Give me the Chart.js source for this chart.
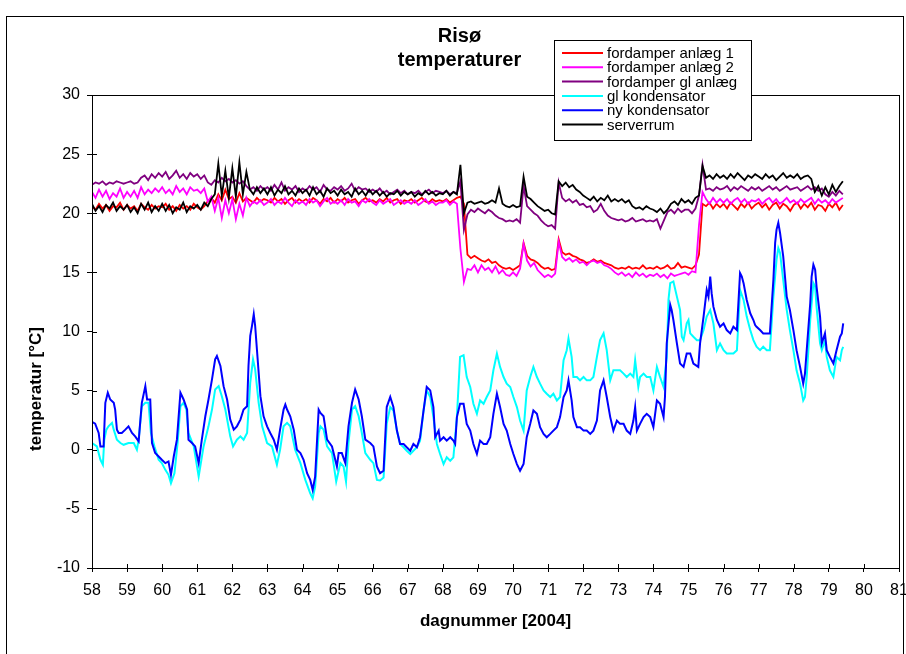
<!DOCTYPE html>
<html>
<head>
<meta charset="utf-8">
<title>Risø temperaturer</title>
<script src="https://cdn.jsdelivr.net/npm/chart.js@4.4.1/dist/chart.umd.min.js"></script>
<style>
  html, body { margin: 0; padding: 0; background: #fff; }
  #wrap { width: 906px; height: 654px; }
</style>
</head>
<body>
<div id="wrap"><canvas id="chart" width="906" height="654"></canvas></div>
<script>
// fordamper + serverrum are logged on a 0.1 day grid starting at day 58
const firstDay = 58;
const sampleStep = 0.1;

const fordamperAnlaeg1 = [
  20.6, 20.3, 20.8, 20.4, 20.7, 20.2, 20.6, 20.5, 20.9, 20.3,
  20.7, 20.4, 20.6, 20.2, 20.8, 20.5, 20.3, 20.7, 20.4, 20.6,
  20.5, 20.8, 20.3, 20.6, 20.2, 20.7, 20.4, 20.6, 20.3, 20.8,
  20.5, 20.3, 20.6, 21.0, 21.3, 20.9, 21.6, 21.1, 22.0, 21.2,
  21.4, 20.9, 21.7, 21.0, 21.3, 21.1, 20.9, 21.3, 21.0, 21.2,
  21.1, 20.9, 21.3, 21.0, 21.2, 20.8, 21.1, 21.3, 20.9, 21.2,
  21.0, 21.2, 20.9, 21.3, 21.1, 20.8, 21.2, 21.0, 21.3, 20.9,
  21.2, 21.0, 21.3, 20.9, 21.1, 21.2, 20.8, 21.1, 21.3, 21.0,
  21.1, 20.9, 21.2, 21.0, 21.3, 20.9, 21.1, 21.2, 20.8, 21.1,
  21.0, 21.2, 20.9, 21.1, 21.3, 21.0, 20.9, 21.2, 21.0, 21.1,
  21.0, 21.2, 20.9, 21.1, 21.3, 21.4, 20.8, 16.5, 16.2, 16.4,
  16.2, 16.0, 15.9, 16.1, 15.8, 15.9, 15.6, 15.4, 15.3, 15.4,
  15.2, 15.4, 15.6, 17.5, 16.4, 16.1, 16.0, 15.8, 15.5, 15.3,
  15.4, 15.2, 15.3, 17.8, 16.7, 16.5, 16.6, 16.4, 16.3, 16.1,
  16.0, 15.8, 15.9, 16.1, 15.9, 16.0, 15.8, 15.7, 15.6, 15.4,
  15.3, 15.4, 15.3, 15.5, 15.3, 15.4, 15.3, 15.6, 15.3, 15.4,
  15.3, 15.5, 15.3, 15.4, 15.6, 15.3, 15.4, 15.8, 15.4, 15.5,
  15.4, 15.3, 15.6, 16.5, 20.8, 20.6, 20.9, 20.4, 20.8, 20.5,
  20.8, 20.4, 20.9, 20.6, 20.3, 20.8, 20.5, 20.9, 20.4, 20.7,
  20.9, 20.5, 20.8, 20.3, 20.7, 20.9, 20.4, 20.8, 20.6, 20.2,
  20.7, 20.9, 20.4, 20.8, 20.5, 20.9, 20.3, 20.7, 20.6, 20.2,
  20.8, 20.5, 20.9, 20.3, 20.7
];

const fordamperAnlaeg2 = [
  21.8, 21.3, 22.0, 21.4, 21.9, 21.2, 21.7, 21.4, 22.1, 21.3,
  21.8, 21.4, 21.9, 21.3, 22.2, 21.6, 22.0, 21.7, 22.1, 21.8,
  22.2, 21.7, 22.0, 21.6, 22.3, 21.8, 22.1, 21.6, 22.2, 21.9,
  22.0, 21.7, 22.1, 21.0, 21.4, 20.2, 21.3, 19.6, 21.1, 20.0,
  21.2, 19.5, 20.8, 19.8, 21.3, 20.6, 21.0, 20.8, 21.1, 20.7,
  20.9, 21.2, 20.7, 21.0, 20.8, 21.3, 20.9, 20.6, 21.1, 20.8,
  21.0, 20.7, 21.2, 20.9, 21.1, 20.6, 21.0, 21.3, 20.8, 21.0,
  20.8, 21.1, 20.7, 21.2, 20.9, 21.0, 20.6, 21.1, 20.9, 21.2,
  20.9, 20.7, 21.1, 20.8, 21.0, 21.2, 20.7, 20.9, 21.1, 20.8,
  21.0, 20.8, 21.1, 20.7, 20.9, 21.2, 20.8, 21.0, 20.7, 20.9,
  20.9, 21.1, 20.7, 21.0, 20.8, 17.0, 14.2, 15.3, 15.2, 15.6,
  15.0, 15.6, 15.2, 15.4, 15.0, 15.5, 14.9, 15.2, 14.8, 14.7,
  15.0, 14.7, 15.3, 17.4, 16.0, 15.5, 15.8, 15.2, 14.9, 14.6,
  14.8, 14.6, 14.9, 17.6, 16.3, 16.0, 16.2, 15.9, 16.1, 15.8,
  15.9, 15.6, 15.9, 16.0, 15.8, 15.9, 15.6, 15.5, 15.3, 15.0,
  14.8, 15.0, 14.7, 14.9, 14.6, 15.0, 14.7, 14.9, 14.6, 14.8,
  14.7, 14.9, 14.6, 14.8, 14.5, 14.9, 14.7, 14.8, 14.9, 15.0,
  14.8, 15.1, 15.0, 19.0, 21.8, 21.2, 20.8, 21.3, 20.9, 21.2,
  20.9, 21.2, 20.8, 21.1, 21.3, 20.9, 21.2, 20.8, 21.1, 21.0,
  21.2, 20.8, 21.1, 21.3, 20.9, 21.2, 20.8, 21.0, 21.3, 20.9,
  21.1, 20.8, 21.2, 20.9, 21.1, 21.3, 20.8, 21.2, 20.9, 21.1,
  20.8, 21.2, 20.9, 21.1, 21.3
];

const fordamperGlAnlaeg = [
  22.4, 22.6, 22.5, 22.7, 22.4, 22.6, 22.5, 22.7, 22.6, 22.5,
  22.6, 22.7, 22.5, 22.6, 23.0, 23.2, 22.8, 23.3, 23.0, 23.4,
  23.1, 23.5, 22.9, 23.2, 23.6, 23.0, 23.3, 22.9, 23.4, 23.1,
  23.3, 22.9, 23.2, 22.6, 22.4, 22.8, 22.6, 23.0, 22.7, 22.9,
  22.6, 22.8, 22.5, 22.7, 22.3, 22.0, 22.2, 21.9, 22.3, 22.0,
  22.2, 21.9, 22.4, 22.0, 22.6, 21.9, 22.2, 22.0, 22.3, 21.8,
  22.1, 21.9, 22.3, 22.0, 22.2, 21.8, 22.4, 22.0, 21.9, 22.2,
  22.0, 22.3, 21.9, 22.1, 22.5, 21.9, 22.2, 22.0, 22.1, 21.8,
  22.0, 21.8, 22.1, 21.7, 21.9, 21.6, 21.8, 22.0, 21.7, 21.9,
  21.6, 21.8, 21.7, 21.9, 21.6, 21.8, 22.0, 21.7, 21.9, 21.8,
  21.7, 21.9, 21.6, 21.8, 21.7, 22.7, 18.6, 19.9, 20.3, 20.1,
  20.4, 20.2, 20.0, 20.3, 20.1, 19.8, 19.6, 19.5, 19.3, 19.4,
  19.3, 19.5, 19.2, 22.3, 20.6, 20.3, 20.0, 19.8, 19.4, 19.1,
  18.9, 19.0, 18.7, 22.6, 21.3, 21.0, 21.2, 20.9, 21.1, 20.7,
  20.8, 20.5, 20.6, 20.1, 20.3, 20.8, 20.2, 19.8, 19.6, 19.5,
  19.4, 19.5, 19.3, 19.4, 19.6, 19.3, 19.4, 19.5, 19.3, 19.4,
  19.3, 19.5, 18.7, 19.4, 20.1, 20.3, 20.0, 20.4, 20.1, 20.3,
  20.3, 20.0, 20.4, 21.5, 24.1, 22.0, 22.1, 21.9, 22.2, 22.0,
  22.1, 22.3, 21.9, 22.2, 22.0, 22.3, 22.1, 21.9, 22.2, 22.0,
  22.2, 21.9, 22.1, 22.3, 22.0, 22.2, 21.9, 22.1, 22.3, 22.0,
  22.1, 22.2, 21.9, 22.1, 22.3, 22.0, 22.2, 21.9, 22.1, 21.6,
  21.4, 21.8, 21.5, 21.9, 21.6
];

const serverrum = [
  20.8, 20.2, 20.6, 20.1, 20.7, 20.4, 20.9, 20.2, 20.6, 20.3,
  20.7, 20.1, 20.5, 20.0, 20.8, 20.3, 20.9, 20.1, 20.6, 20.2,
  20.8, 20.2, 20.7, 20.0, 20.5, 20.3, 20.9, 20.1, 20.6, 20.4,
  20.7, 20.3, 20.9, 20.6, 21.2, 21.6, 24.2, 21.5, 23.6, 21.3,
  23.8, 21.4, 24.3, 21.6, 23.5, 22.0, 21.6, 22.2, 21.7, 22.1,
  21.6, 22.2, 21.5, 22.0, 21.7, 22.3, 21.6, 21.9, 21.5, 22.1,
  21.7, 22.0, 21.5, 22.2, 21.6, 21.9, 21.4, 22.1, 21.7, 21.9,
  21.5, 22.0, 21.6, 21.8, 21.4, 22.1, 21.6, 21.9, 21.5, 22.0,
  21.6, 21.9, 21.5, 21.8, 21.4, 21.7, 21.6, 21.9, 21.5, 21.8,
  21.6, 21.8, 21.4, 21.7, 21.5, 21.9, 21.6, 21.8, 21.5, 21.7,
  21.6, 21.9, 21.5, 21.8, 21.6, 24.1, 20.0, 20.9, 21.0, 20.8,
  20.9, 21.0, 20.8, 20.9, 21.1, 20.9, 22.1, 20.8, 20.6, 20.5,
  20.7, 20.5, 20.6, 23.1, 21.4, 21.2, 20.9, 20.6, 20.4, 20.2,
  20.3, 20.0, 19.9, 22.7, 22.3, 22.6, 22.2, 22.4, 22.0, 21.8,
  21.5, 21.3, 21.1, 21.4, 21.0, 21.3, 21.1, 21.5, 21.0, 21.2,
  21.0, 21.2, 20.9, 21.1, 20.6, 20.4, 20.5, 20.3, 20.6, 20.4,
  20.3, 20.1, 20.4, 20.0, 20.3, 20.8, 21.0, 20.7, 21.2, 20.9,
  21.1, 20.8, 21.3, 21.5, 24.0, 23.0, 23.2, 22.9, 23.3, 23.0,
  23.2, 22.9, 23.3, 23.0, 23.4, 23.1, 22.8, 23.2, 23.0, 23.3,
  23.1, 22.9, 23.3, 23.0, 23.2, 22.8, 23.1, 23.4, 23.0, 23.2,
  23.0, 23.3, 22.9, 23.1, 23.2, 22.9, 21.8, 22.3, 21.5, 22.2,
  21.6, 22.4, 21.8, 22.3, 22.7
];

const glKondensatorDays = [
  58.00, 58.14, 58.24, 58.31, 58.35, 58.41, 58.47, 58.57, 58.62, 58.71,
  58.81, 58.90, 59.04, 59.19, 59.28, 59.33, 59.42, 59.52, 59.61, 59.68,
  59.78, 59.90, 59.99, 60.09, 60.18, 60.25, 60.35, 60.44, 60.52, 60.61,
  60.69, 60.75, 60.90, 61.04, 61.18, 61.32, 61.42, 61.51, 61.61, 61.70,
  61.80, 61.94, 62.02, 62.13, 62.23, 62.32, 62.42, 62.51, 62.59, 62.65,
  62.75, 62.85, 62.99, 63.13, 63.27, 63.36, 63.46, 63.56, 63.65, 63.79,
  63.94, 64.08, 64.22, 64.29, 64.36, 64.46, 64.51, 64.60, 64.70, 64.84,
  64.96, 65.08, 65.17, 65.24, 65.31, 65.41, 65.50, 65.60, 65.69, 65.79,
  65.93, 66.02, 66.12, 66.21, 66.31, 66.40, 66.50, 66.59, 66.69, 66.78,
  66.88, 66.97, 67.07, 67.16, 67.26, 67.35, 67.45, 67.54, 67.64, 67.73,
  67.83, 67.92, 68.02, 68.11, 68.21, 68.30, 68.40, 68.49, 68.59, 68.68,
  68.78, 68.87, 68.97, 69.06, 69.16, 69.25, 69.35, 69.44, 69.54, 69.63,
  69.73, 69.82, 69.92, 70.01, 70.11, 70.20, 70.30, 70.39, 70.49, 70.58,
  70.68, 70.77, 70.87, 70.96, 71.06, 71.15, 71.25, 71.34, 71.44, 71.53,
  71.58, 71.67, 71.72, 71.82, 71.91, 72.01, 72.10, 72.20, 72.29, 72.39,
  72.48, 72.58, 72.67, 72.77, 72.86, 72.96, 73.05, 73.15, 73.24, 73.34,
  73.43, 73.48, 73.57, 73.62, 73.72, 73.81, 73.91, 74.00, 74.10, 74.19,
  74.29, 74.38, 74.43, 74.48, 74.57, 74.67, 74.76, 74.81, 74.86, 74.95,
  75.00, 75.05, 75.14, 75.24, 75.33, 75.43, 75.52, 75.62, 75.71, 75.81,
  75.90, 76.00, 76.09, 76.19, 76.28, 76.38, 76.47, 76.57, 76.66, 76.76,
  76.85, 76.94, 77.04, 77.13, 77.23, 77.32, 77.42, 77.51, 77.56, 77.61,
  77.70, 77.80, 77.89, 77.99, 78.08, 78.18, 78.27, 78.32, 78.37, 78.47,
  78.56, 78.61, 78.65, 78.75, 78.80, 78.89, 78.94, 79.03, 79.13, 79.22,
  79.32, 79.37, 79.41
];
const glKondensatorTemp = [
  0.57, 0.28, -0.85, -1.27, 0.85, 1.70, 1.98, 2.27, 1.70, 0.85,
  0.57, 0.42, 0.57, 0.57, 0.00, 0.85, 3.68, 3.97, 3.97, 1.42,
  0.28, -0.85, -1.13, -1.70, -2.12, -2.83, -1.98, 0.57, 3.68, 3.97,
  3.40, 1.42, 0.28, -2.27, 0.28, 1.98, 3.40, 5.10, 5.38, 4.53,
  3.40, 1.13, 0.28, 0.85, 1.13, 0.85, 1.42, 5.67, 7.65, 6.80,
  3.97, 1.98, 0.57, 0.28, -1.27, 0.00, 1.98, 2.27, 1.98, 0.00,
  -1.13, -2.55, -3.68, -4.11, -3.12, 1.42, 1.98, 1.70, 0.28, -0.28,
  -2.69, -1.13, -1.42, -2.69, 0.57, 3.40, 3.68, 2.83, 1.42, -0.28,
  -0.85, -1.13, -2.55, -2.60, -2.34, 2.19, 3.61, 3.32, 1.62, 0.49,
  0.21, -0.08, -0.36, -0.08, 0.21, 0.77, 3.32, 5.02, 4.46, 2.76,
  0.49, -0.36, -1.21, -0.64, -0.93, -0.64, 2.76, 7.85, 8.00, 6.15,
  5.31, 3.89, 3.04, 4.17, 3.89, 4.46, 5.02, 6.72, 8.14, 7.01,
  6.15, 5.59, 5.31, 4.46, 3.61, 2.47, 1.62, 5.02, 6.15, 7.01,
  6.15, 5.59, 5.02, 4.74, 4.46, 4.74, 4.17, 4.46, 7.57, 8.42,
  9.41, 7.85, 6.15, 6.15, 5.87, 6.15, 5.87, 5.87, 6.15, 7.85,
  9.27, 9.84, 8.42, 5.87, 6.72, 6.72, 6.72, 6.44, 6.15, 6.44,
  6.15, 7.57, 5.31, 6.15, 6.44, 6.15, 6.15, 5.02, 7.01, 6.15,
  5.31, 7.85, 12.67, 14.09, 14.23, 12.95, 11.82, 9.56, 9.27, 10.69,
  10.97, 9.84, 9.56, 9.27, 9.27, 10.12, 11.26, 11.82, 10.69, 8.42,
  8.99, 8.42, 8.14, 8.14, 8.14, 8.42, 13.52, 12.67, 11.26, 10.12,
  9.27, 8.71, 8.42, 8.71, 8.42, 8.42, 12.95, 16.07, 17.06, 16.64,
  14.37, 11.82, 10.12, 8.42, 6.72, 5.59, 4.17, 4.46, 6.16, 10.97,
  14.09, 13.80, 12.10, 8.99, 8.42, 9.27, 7.85, 6.72, 6.16, 7.85,
  7.57, 8.42, 8.71
];

const nyKondensatorDays = [
  58.00, 58.09, 58.19, 58.24, 58.33, 58.38, 58.45, 58.52, 58.62, 58.66,
  58.71, 58.76, 58.85, 58.95, 59.04, 59.14, 59.23, 59.33, 59.38, 59.42,
  59.52, 59.57, 59.66, 59.71, 59.80, 59.90, 59.99, 60.09, 60.18, 60.25,
  60.33, 60.42, 60.52, 60.61, 60.71, 60.75, 60.85, 60.94, 61.04, 61.13,
  61.23, 61.32, 61.42, 61.51, 61.56, 61.66, 61.75, 61.85, 61.94, 62.04,
  62.13, 62.23, 62.32, 62.42, 62.46, 62.51, 62.56, 62.61, 62.65, 62.70,
  62.80, 62.89, 62.99, 63.08, 63.18, 63.27, 63.36, 63.46, 63.51, 63.56,
  63.65, 63.75, 63.84, 63.94, 64.03, 64.13, 64.22, 64.29, 64.36, 64.46,
  64.51, 64.60, 64.70, 64.84, 64.98, 65.03, 65.12, 65.22, 65.31, 65.41,
  65.50, 65.60, 65.69, 65.79, 65.93, 66.02, 66.12, 66.21, 66.31, 66.40,
  66.50, 66.59, 66.69, 66.78, 66.88, 66.97, 67.07, 67.16, 67.26, 67.35,
  67.45, 67.54, 67.64, 67.73, 67.78, 67.88, 67.92, 68.02, 68.11, 68.21,
  68.30, 68.35, 68.40, 68.49, 68.59, 68.68, 68.78, 68.87, 68.97, 69.06,
  69.16, 69.25, 69.35, 69.44, 69.54, 69.63, 69.73, 69.82, 69.92, 70.01,
  70.11, 70.20, 70.30, 70.39, 70.49, 70.58, 70.68, 70.77, 70.87, 70.96,
  71.06, 71.15, 71.25, 71.34, 71.44, 71.53, 71.58, 71.67, 71.72, 71.82,
  71.91, 72.01, 72.10, 72.20, 72.29, 72.39, 72.48, 72.58, 72.67, 72.77,
  72.86, 72.96, 73.05, 73.15, 73.24, 73.34, 73.43, 73.48, 73.53, 73.62,
  73.72, 73.81, 73.91, 74.00, 74.10, 74.19, 74.29, 74.33, 74.38, 74.48,
  74.52, 74.57, 74.67, 74.76, 74.86, 74.95, 75.05, 75.14, 75.28, 75.33,
  75.43, 75.52, 75.57, 75.62, 75.66, 75.71, 75.81, 75.90, 76.00, 76.09,
  76.19, 76.28, 76.38, 76.47, 76.52, 76.57, 76.66, 76.76, 76.85, 76.90,
  76.94, 77.04, 77.13, 77.23, 77.32, 77.42, 77.47, 77.51, 77.56, 77.61,
  77.70, 77.80, 77.89, 77.99, 78.08, 78.18, 78.27, 78.32, 78.37, 78.47,
  78.51, 78.56, 78.61, 78.65, 78.75, 78.80, 78.89, 78.94, 79.03, 79.13,
  79.22, 79.32, 79.37, 79.41
];
const nyKondensatorTemp = [
  2.35, 2.21, 1.42, 0.28, 0.28, 3.97, 4.82, 4.25, 3.97, 3.40,
  1.70, 1.42, 1.42, 1.70, 1.98, 1.42, 1.13, 0.71, 2.55, 3.97,
  5.38, 4.25, 4.25, 0.57, -0.28, -0.57, -0.85, -1.13, -0.99, -2.12,
  -0.57, 0.85, 4.82, 4.25, 3.40, 0.85, 0.57, 0.28, -1.13, 0.85,
  2.83, 4.25, 5.95, 7.65, 7.93, 7.08, 5.38, 4.25, 2.55, 1.70,
  1.98, 2.55, 3.40, 3.68, 7.08, 9.63, 10.48, 11.47, 10.48, 8.50,
  4.53, 2.83, 1.98, 1.42, 0.85, 0.00, 1.70, 3.40, 3.82, 3.40,
  2.83, 1.70, 0.00, -0.28, -0.85, -1.98, -2.55, -3.40, -2.27, 3.40,
  3.12, 2.83, 0.85, 0.28, -1.42, -0.28, -0.28, -1.13, 1.98, 3.97,
  5.10, 4.25, 2.83, 0.85, 0.57, 0.28, -1.42, -1.98, -1.78, 3.61,
  4.46, 3.61, 1.62, 0.49, 0.49, 0.21, -0.08, 0.49, 0.21, 1.06,
  3.32, 5.31, 5.02, 3.61, 1.06, 1.62, 0.77, 1.06, 0.77, 1.06,
  0.77, 0.49, 2.76, 3.89, 3.89, 2.19, 1.62, 0.49, -0.36, 0.77,
  0.49, 0.49, 1.06, 3.04, 4.74, 3.61, 2.19, 1.62, 0.49, -0.36,
  -1.21, -1.78, -1.21, 1.06, 2.19, 3.32, 3.04, 1.91, 1.34, 1.06,
  1.34, 1.62, 1.91, 2.76, 4.46, 5.02, 5.87, 4.17, 2.76, 1.91,
  1.91, 1.62, 1.62, 1.34, 1.62, 2.47, 5.02, 5.87, 4.46, 2.76,
  1.62, 2.47, 2.19, 2.19, 1.62, 1.34, 2.47, 3.61, 1.62, 2.19,
  2.76, 3.04, 2.76, 1.91, 4.17, 3.89, 2.76, 4.46, 8.99, 12.25,
  11.82, 10.97, 8.99, 7.29, 7.01, 8.14, 8.14, 7.29, 7.01, 8.99,
  11.26, 13.52, 12.95, 14.65, 13.24, 12.10, 10.97, 10.40, 10.69, 10.12,
  9.84, 10.40, 10.12, 14.94, 14.65, 14.09, 12.67, 11.54, 10.97, 10.55,
  10.40, 10.12, 9.84, 9.84, 9.84, 14.37, 17.49, 18.62, 19.19, 18.34,
  16.35, 12.95, 11.82, 10.12, 8.42, 7.01, 5.59, 6.44, 8.42, 12.39,
  14.65, 15.65, 15.22, 13.80, 11.26, 8.99, 9.84, 8.42, 7.85, 7.29,
  8.42, 9.56, 9.84, 10.69
];

const seriesNames = [
  'fordamper anlæg 1', 'fordamper anlæg 2', 'fordamper gl anlæg',
  'gl kondensator', 'ny kondensator', 'serverrum'
];
const seriesColors = ['#FF0000', '#FF00FF', '#800080', '#00FFFF', '#0000FF', '#000000'];

const yTicks = [-10, -5, 0, 5, 10, 15, 20, 25, 30];
const xFirst = 58, xLast = 81;
const yTitle = 'temperatur [°C]';

const sampleDays = fordamperAnlaeg1.map((_, i) => +(firstDay + i * sampleStep).toFixed(1));
const toPoints = (xs, ys) => ys.map((y, i) => ({ x: xs[i], y }));

function makeSet(i, xs, ys, width, order) {
  return {
    label: seriesNames[i],
    data: toPoints(xs, ys),
    borderColor: seriesColors[i],
    backgroundColor: seriesColors[i],
    borderWidth: width,
    pointRadius: 0,
    tension: 0,
    fill: false,
    order: order
  };
}

const FONT = "'Liberation Sans', Arial, Helvetica, sans-serif";
Chart.defaults.font.family = FONT;
Chart.defaults.color = '#000';

// frame, plot box, inner tick halves, y title and the boxed legend
const excelLook = {
  id: 'excelLook',
  beforeDraw(chart) {
    const ctx = chart.ctx;
    ctx.save();
    ctx.fillStyle = '#fff';
    ctx.fillRect(0, 0, chart.width, chart.height);
    ctx.restore();
  },
  afterDraw(chart) {
    const ctx = chart.ctx;
    const a = chart.chartArea;
    const xs = chart.scales.x, ys = chart.scales.y;
    ctx.save();
    ctx.strokeStyle = '#000';
    ctx.lineWidth = 1;

    // plot area box
    ctx.strokeRect(Math.round(a.left) + 0.5, Math.round(a.top) + 0.5,
      Math.round(a.right - a.left), Math.round(a.bottom - a.top));

    // ticks cross the axes
    ctx.beginPath();
    yTicks.forEach(v => {
      const y = Math.round(ys.getPixelForValue(v)) + 0.5;
      ctx.moveTo(a.left, y);
      ctx.lineTo(a.left + 5, y);
    });
    for (let d = xFirst; d <= xLast; d++) {
      const x = Math.round(xs.getPixelForValue(d)) + 0.5;
      ctx.moveTo(x, a.bottom);
      ctx.lineTo(x, a.bottom - 4);
    }
    ctx.stroke();

    // outer chart frame
    ctx.strokeRect(6.5, 16.5, 897, 700);

    // y axis title, sits lower than the plot centre like in Excel
    ctx.save();
    ctx.translate(36, 389);
    ctx.rotate(-Math.PI / 2);
    ctx.font = 'bold 17px ' + FONT;
    ctx.fillStyle = '#000';
    ctx.textAlign = 'center';
    ctx.textBaseline = 'middle';
    ctx.fillText(yTitle, 0, 0);
    ctx.restore();

    // legend
    const lx = 554, ly = 40, lw = 197, lh = 100;
    ctx.fillStyle = '#fff';
    ctx.fillRect(lx, ly, lw, lh);
    ctx.strokeRect(lx + 0.5, ly + 0.5, lw, lh);
    ctx.font = '15px ' + FONT;
    ctx.textBaseline = 'middle';
    ctx.textAlign = 'left';
    chart.data.datasets.forEach((ds, i) => {
      const y = ly + 13 + i * 14.3;
      ctx.strokeStyle = ds.borderColor;
      ctx.lineWidth = 2;
      ctx.beginPath();
      ctx.moveTo(562, y);
      ctx.lineTo(603, y);
      ctx.stroke();
      ctx.fillStyle = '#000';
      ctx.fillText(ds.label, 607, y + 1);
    });
    ctx.restore();
  }
};

new Chart(document.getElementById('chart'), {
  type: 'line',
  data: {
    datasets: [
      makeSet(0, sampleDays, fordamperAnlaeg1, 1.8, 6),
      makeSet(1, sampleDays, fordamperAnlaeg2, 1.8, 5),
      makeSet(2, sampleDays, fordamperGlAnlaeg, 1.8, 4),
      makeSet(3, glKondensatorDays, glKondensatorTemp, 2, 3),
      makeSet(4, nyKondensatorDays, nyKondensatorTemp, 2, 2),
      makeSet(5, sampleDays, serverrum, 1.8, 1)
    ]
  },
  options: {
    responsive: false,
    animation: false,
    devicePixelRatio: 1,
    layout: { padding: { left: 20, right: 7, top: 0, bottom: 0 } },
    plugins: {
      legend: { display: false },
      tooltip: { enabled: false },
      title: {
        display: true,
        text: ['Risø', 'temperaturer'],
        color: '#000',
        font: { size: 20, weight: 'bold', lineHeight: 1.2 },
        padding: { top: 24, bottom: 23 }
      }
    },
    scales: {
      x: {
        type: 'linear',
        min: xFirst,
        max: xLast,
        afterFit(scale) {
          scale.height = 86;
          scale.paddingLeft = 0;
          scale.paddingRight = 0;
        },
        ticks: {
          stepSize: 1,
          autoSkip: false,
          maxRotation: 0,
          padding: 9,
          color: '#000',
          font: { size: 16 }
        },
        grid: { drawOnChartArea: false, tickLength: 4, color: '#000' },
        border: { color: '#000' },
        title: {
          display: true,
          text: 'dagnummer [2004]',
          color: '#000',
          font: { size: 17, weight: 'bold' },
          padding: { top: 0, bottom: 22 }
        }
      },
      y: {
        min: -10,
        max: 30,
        afterFit(scale) {
          scale.width = 72;
        },
        ticks: {
          stepSize: 5,
          padding: 7,
          color: '#000',
          font: { size: 16 }
        },
        grid: { drawOnChartArea: false, tickLength: 5, color: '#000' },
        border: { color: '#000' },
        title: { display: false }
      }
    }
  },
  plugins: [excelLook]
});
</script>
</body>
</html>
